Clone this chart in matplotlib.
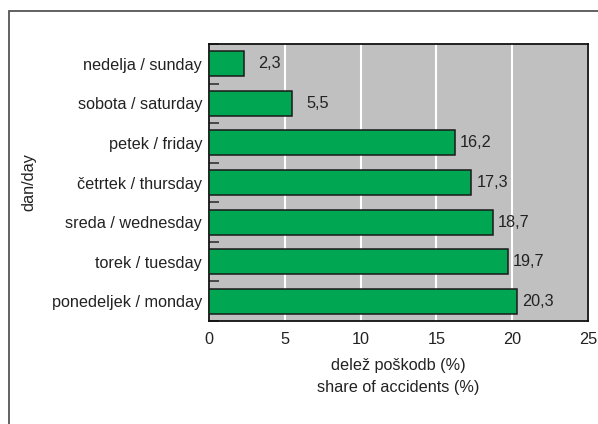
import numpy as np
import matplotlib.pyplot as plt
from matplotlib.patches import Rectangle

plt.rcParams['font.family'] = ['Liberation Sans', 'DejaVu Sans']

# Data (bottom to top)
days = ['ponedeljek / monday', 'torek / tuesday', 'sreda / wednesday',
        'četrtek / thursday', 'petek / friday', 'sobota / saturday',
        'nedelja / sunday']
share = [20.3, 19.7, 18.7, 17.3, 16.2, 5.5, 2.3]
xticks = [0, 5, 10, 15, 20, 25]

fs = 11.7

fig = plt.figure(figsize=(5.98, 4.24), dpi=100)
ax = fig.add_axes([0.3495, 0.2429, 0.6338, 0.6533])

# outer frame (cut off at right and bottom like the original)
frame = Rectangle((8.5 / 598, -0.1), 1.2, 1 - 11 / 424 + 0.1,
                  transform=fig.transFigure, fill=False,
                  edgecolor='#555555', linewidth=1.3, clip_on=False)
fig.patches.append(frame)

y = np.arange(len(days))
ax.set_facecolor('#c0c0c0')
ax.barh(y, share, height=0.63, color='#00a651', edgecolor='#1a1a1a',
        linewidth=1.1, zorder=3)

for yi, v in zip(y, share):
    ax.annotate(f"{v:.1f}".replace('.', ','), (v, yi), xytext=(26.5, 0),
                textcoords='offset points', ha='right', va='center',
                fontsize=fs, color='#222222')

ax.set_xlim(0, 25)
ax.set_ylim(-0.5, len(days) - 0.5)
ax.set_xticks(xticks)
ax.set_yticks(y)
ax.set_yticklabels(days)
ax.set_yticks(np.arange(len(days) + 1) - 0.5, minor=True)

ax.tick_params(axis='x', length=0, labelsize=fs, pad=8, colors='#222222')
ax.tick_params(axis='y', which='major', length=0, labelsize=fs, pad=5,
               colors='#222222')
ax.tick_params(axis='y', which='minor', direction='in', length=7,
               width=1.2, color='#333333')

ax.xaxis.grid(True, color='white', linewidth=1.5, zorder=1)
ax.set_axisbelow(True)
for s in ax.spines.values():
    s.set_linewidth(1.3)
    s.set_color('#111111')

ax.set_xlabel('delež poškodb (%)\nshare of accidents (%)', fontsize=fs,
              color='#222222', linespacing=1.55, labelpad=8)
ax.set_ylabel('dan/day', fontsize=fs, color='#222222', labelpad=11)

fig.savefig('out.png', dpi=100)
